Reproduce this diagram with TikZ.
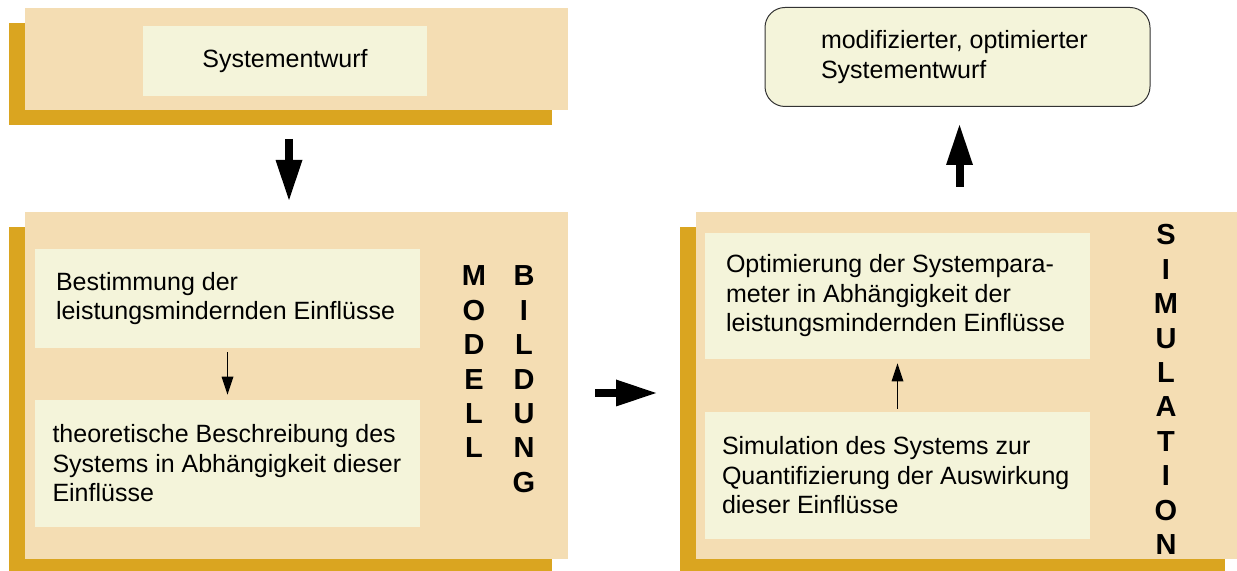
\documentclass[tikz,border=0pt]{standalone}
\usepackage{fontspec}
\setmainfont{Liberation Sans}
\usetikzlibrary{arrows.meta,shadows}

\definecolor{panelfill}{HTML}{F4DDB3}
\definecolor{panelshade}{HTML}{DAA520}
\definecolor{boxfill}{HTML}{F4F4DA}

\tikzset{
	panel/.style={fill=panelfill, inner sep=0pt,
		drop shadow={opacity=1, fill=panelshade, shadow xshift=-8pt, shadow yshift=-7.5pt}},
	innerbox/.style={fill=boxfill, inner xsep=10.5pt, inner ysep=0pt, text width=171.5pt,
		align=flush left, font=\fontsize{12.5}{14.75}\selectfont},
	vletter/.style={inner sep=0pt, font=\fontsize{14.5}{15}\selectfont\bfseries},
	bigarrow/.style={line width=4pt, -{Triangle[width=13.5pt 0 0, length=20pt 0 0, line width=0pt 0 0]}},
	thinarrow/.style={line width=0.65pt, -{Triangle[width=6pt 0 0, length=9pt 0 0, line width=0pt 0 0]}},
}

\begin{document}
\begin{tikzpicture}[x=0.5pt, y=-0.5pt]
	\useasboundingbox (0,0) rectangle (1237,571);

	\node[panel, minimum width=271.5pt, minimum height=51pt] (entwurfpanel) at (296.5,59) {};
	\node[panel, minimum width=271.5pt, minimum height=173.5pt] (modellpanel) at (296.5,385.5) {};
	\node[panel, minimum width=272.5pt, minimum height=173.5pt] (simpanel) at (968.5,385.5) {};

	\node[fill=boxfill, minimum width=142pt, minimum height=35pt, font=\fontsize{12.5}{14.75}\selectfont] (entwurf) at (285,61) {Systementwurf};
	\node[innerbox, minimum height=49.5pt, rounded corners=10pt, draw=black!80, line width=0.5pt,
		inner xsep=28pt, text width=136.5pt] (ergebnis) at (957.5,57)
		{modifizierter, optimierter\\Systementwurf};

	\node[innerbox, minimum height=49.5pt] (bestimmung) at (227.5,298.5)
		{Bestimmung der\\leistungsmindernden Einflüsse};
	\node[innerbox, minimum height=63.5pt, inner xsep=8.75pt, text width=175pt] (beschreibung) at (227.5,463.5)
		{theoretische Beschreibung des\\Systems in Abhängigkeit dieser\\Einflüsse};
	\node[innerbox, minimum height=63pt] (optimierung) at (897.5,296)
		{Optimierung der Systempara-\\meter in Abhängigkeit der\\leistungsmindernden Einflüsse};
	\node[innerbox, minimum height=63.5pt, inner xsep=8.5pt, text width=175.5pt] (simulation) at (897.5,475.5)
		{Simulation des Systems zur\\Quantifizierung der Auswirkung\\dieser Einflüsse};

	\foreach \c [count=\i from 0] in {M,O,D,E,L,L}
		\node[vletter] (modell\i) at (474,276+34.4*\i) {\c};
	\foreach \c [count=\i from 0] in {B,I,L,D,U,N,G}
		\node[vletter] (bildung\i) at (524,276+34.4*\i) {\c};
	\foreach \c [count=\i from 0] in {S,I,M,U,L,A,T,I,O,N}
		\node[vletter] (simul\i) at (1166,235+34.4*\i) {\c};

	\draw[thinarrow, shorten <=2pt, shorten >=2.5pt] (bestimmung) -- (beschreibung);
	\draw[thinarrow, shorten <=1.5pt, shorten >=2pt] (simulation) -- (optimierung);

	\coordinate (down-a) at (289,139);
	\coordinate (down-b) at (289,200);
	\coordinate (right-a) at (595,393);
	\coordinate (right-b) at (656,393);
	\coordinate (up-a) at (959.5,187);
	\coordinate (up-b) at (959.5,125);
	\draw[bigarrow] (down-a) -- (down-b);
	\draw[bigarrow] (right-a) -- (right-b);
	\draw[bigarrow] (up-a) -- (up-b);
\end{tikzpicture}
\end{document}
